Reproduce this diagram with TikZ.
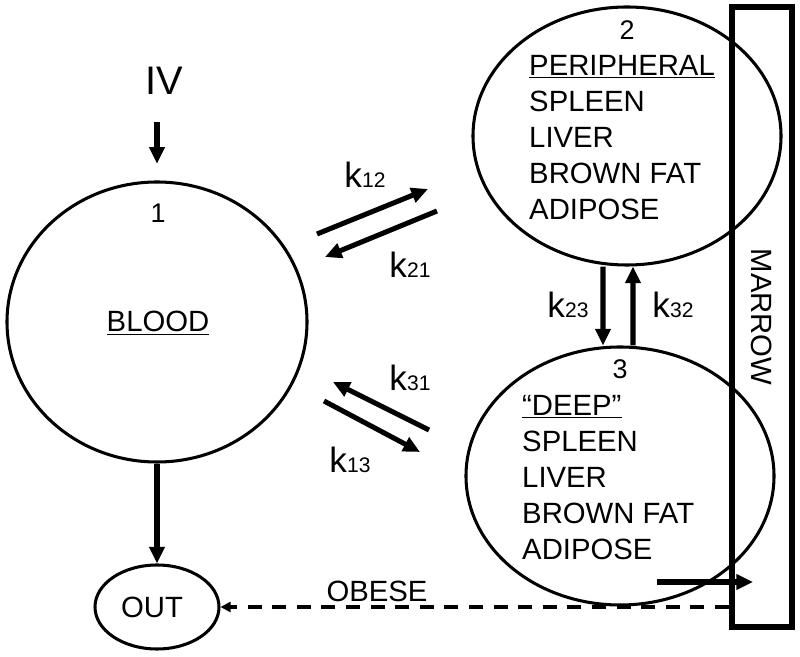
\documentclass[tikz,border=0pt]{standalone}
\usepackage{fontspec}
\setmainfont{Liberation Sans}
\usetikzlibrary{shapes.geometric,arrows.meta}
\newcommand{\lbl}{\fontsize{25}{28}\selectfont}
\newcommand{\num}{\fontsize{23}{25}\selectfont}
\newcommand{\rate}[1]{{\fontsize{30}{32}\selectfont k}{\fontsize{18}{20}\selectfont #1}}

\tikzset{
	comp/.style={draw,ellipse,line width=2.6pt},
	txt/.style={inner sep=0pt,anchor=base,font=\lbl},
	item/.style={inner sep=0pt,anchor=base west,font=\lbl},
	flow/.style={line width=4.3pt,-{Triangle[length=0.5cm,width=0.45cm]}},
	obese/.style={line width=3.4pt,dash pattern=on 12pt off 9pt,-{Triangle[length=0.3cm,width=0.3cm]}}
}

\begin{document}
\begin{tikzpicture}[x=0.03cm,y=-0.03cm]
		\useasboundingbox (0,0) rectangle (800,657);

		\node[comp,minimum width=9cm,minimum height=8.4cm] (blood) at (157,322) {};
		\node[comp,minimum width=9.24cm,minimum height=7.74cm] (per) at (627,136) {};
		\node[comp,minimum width=9.24cm,minimum height=7.74cm] (deep) at (620,476) {};
		\node[comp,minimum width=3.72cm,minimum height=2.52cm] (out) at (157,607) {};
		\node[draw,line width=5pt,rotate=-90,minimum width=18.6cm,minimum height=1.8cm,font=\lbl] (marrow) at (762,317) {MARROW};

		\node[txt,font=\fontsize{34}{36}\selectfont] (iv) at (164,95) {IV};
		\node[txt,font=\num] (n1) at (158,223) {1};
		\node[txt] (bloodlbl) at (158,332) {\underline{BLOOD}};
		\node[txt] (outlbl) at (152,618) {OUT};
		\node[txt] (obeselbl) at (377,602) {OBESE};

		\node[txt,font=\num] (n2) at (627,40) {2};
		\node[item] (perhead) at (529,76) {\underline{PERIPHERAL}};
		\node[item] (per1) at (529,112) {SPLEEN};
		\node[item] (per2) at (529,148) {LIVER};
		\node[item] (per3) at (529,184) {BROWN FAT};
		\node[item] (per4) at (529,220) {ADIPOSE};

		\node[txt,font=\num] (n3) at (620,379) {3};
		\node[item] (deephead) at (522,416) {\underline{“DEEP”}};
		\node[item] (deep1) at (522,452) {SPLEEN};
		\node[item] (deep2) at (522,488) {LIVER};
		\node[item] (deep3) at (522,524) {BROWN FAT};
		\node[item] (deep4) at (522,560) {ADIPOSE};

		\node[txt] (k12) at (365,188) {\rate{12}};
		\node[txt] (k21) at (410,278) {\rate{21}};
		\node[txt] (k31) at (410,391) {\rate{31}};
		\node[txt] (k13) at (350,473) {\rate{13}};
		\node[txt] (k23) at (568,318) {\rate{23}};
		\node[txt] (k32) at (673,318) {\rate{32}};

		\coordinate (k12a) at (317,234);
		\coordinate (k12b) at (428,189);
		\coordinate (k21a) at (437,211);
		\coordinate (k21b) at (325,257);
		\coordinate (k31a) at (429,430);
		\coordinate (k31b) at (333,382);
		\coordinate (k13a) at (324,401);
		\coordinate (k13b) at (420,452);
		\coordinate (fat) at (657,582);
		\coordinate (fatin) at (753,582);

		\draw[flow,shorten <=0.81cm,shorten >=0.5cm] (blood.north |- iv.south) -- (blood.north);
		\draw[flow] (blood.south) -- (out.north);
		\draw[flow] (k12a) -- (k12b);
		\draw[flow] (k21a) -- (k21b);
		\draw[flow] (k31a) -- (k31b);
		\draw[flow] (k13a) -- (k13b);
		\draw[flow] ([xshift=-0.72cm]per.south) -- ([xshift=-0.51cm]deep.north);
		\draw[flow] ([xshift=0.39cm]deep.north) -- ([xshift=0.18cm]per.south);
		\draw[flow] (fat) -- (fatin);
		\draw[obese] (marrow.south |- out) -- (out.east);
	\end{tikzpicture}
\end{document}
